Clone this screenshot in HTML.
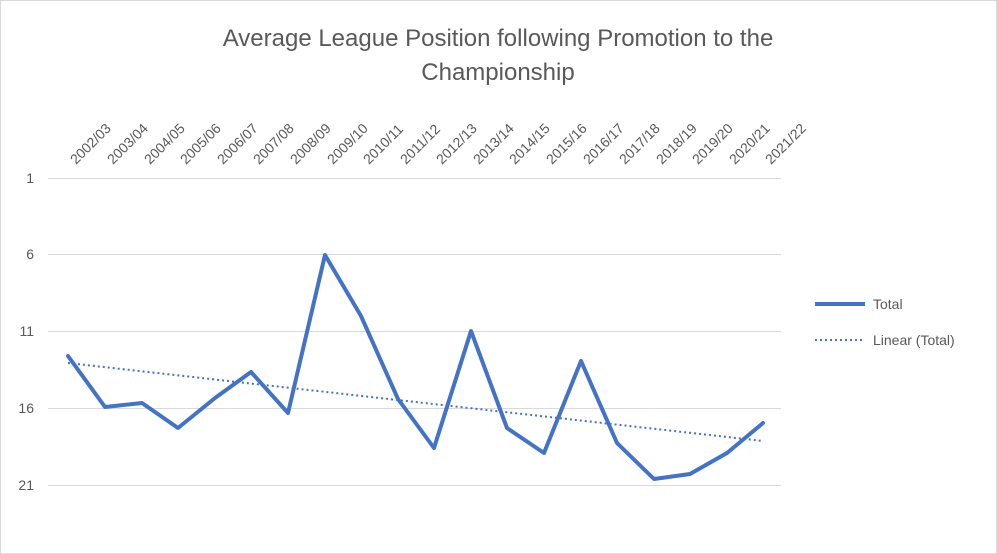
<!DOCTYPE html>
<html><head><meta charset="utf-8"><style>body{margin:0;background:#fff}svg{display:block}text{font-family:"Liberation Sans",Arial,sans-serif;fill:#595959}</style></head>
<body>
<svg width="997" height="554" viewBox="0 0 997 554">
<rect x="0.5" y="0.5" width="996" height="553" fill="#fff" stroke="#d9d9d9"/>
<text x="498" y="46" font-size="24" text-anchor="middle">Average League Position following Promotion to the</text>
<text x="498" y="80" font-size="24" text-anchor="middle">Championship</text>
<g stroke="#d9d9d9" stroke-width="1">
<line x1="48" y1="178.5" x2="781" y2="178.5"/><line x1="48" y1="254.5" x2="781" y2="254.5"/><line x1="48" y1="331.5" x2="781" y2="331.5"/><line x1="48" y1="408.5" x2="781" y2="408.5"/><line x1="48" y1="485.5" x2="781" y2="485.5"/>
</g>
<g font-size="14" text-anchor="end">
<text x="34" y="183">1</text><text x="34" y="259">6</text><text x="34" y="336">11</text><text x="34" y="413">16</text><text x="34" y="490">21</text>
</g>
<g font-size="14" id="cats"></g>
<polyline fill="none" stroke="#4472c4" stroke-width="4" stroke-linejoin="round" stroke-linecap="round" points="68,356 105,407 142,403 178,428 215,398 251,372 288,413 325,255 361,316 398,399 434,448 471,331 507,428 544,453 581,361 617,443 654,479 690,474 727,453 763,423"/>
<line x1="68" y1="363" x2="763" y2="441" stroke="#4472c4" stroke-width="2" stroke-dasharray="2,3"/>
<line x1="815" y1="304" x2="865" y2="304" stroke="#4472c4" stroke-width="4"/>
<text x="873" y="309" font-size="14">Total</text>
<line x1="815" y1="340" x2="865" y2="340" stroke="#4472c4" stroke-width="2" stroke-dasharray="2,3"/>
<text x="873" y="345" font-size="14">Linear (Total)</text>
<g font-size="14">
<text transform="translate(76,165) rotate(-45)">2002/03</text>
<text transform="translate(113,165) rotate(-45)">2003/04</text>
<text transform="translate(150,165) rotate(-45)">2004/05</text>
<text transform="translate(186,165) rotate(-45)">2005/06</text>
<text transform="translate(223,165) rotate(-45)">2006/07</text>
<text transform="translate(259,165) rotate(-45)">2007/08</text>
<text transform="translate(296,165) rotate(-45)">2008/09</text>
<text transform="translate(333,165) rotate(-45)">2009/10</text>
<text transform="translate(369,165) rotate(-45)">2010/11</text>
<text transform="translate(406,165) rotate(-45)">2011/12</text>
<text transform="translate(442,165) rotate(-45)">2012/13</text>
<text transform="translate(479,165) rotate(-45)">2013/14</text>
<text transform="translate(515,165) rotate(-45)">2014/15</text>
<text transform="translate(552,165) rotate(-45)">2015/16</text>
<text transform="translate(589,165) rotate(-45)">2016/17</text>
<text transform="translate(625,165) rotate(-45)">2017/18</text>
<text transform="translate(662,165) rotate(-45)">2018/19</text>
<text transform="translate(698,165) rotate(-45)">2019/20</text>
<text transform="translate(735,165) rotate(-45)">2020/21</text>
<text transform="translate(771,165) rotate(-45)">2021/22</text>
</g>
</svg>
</body></html>
